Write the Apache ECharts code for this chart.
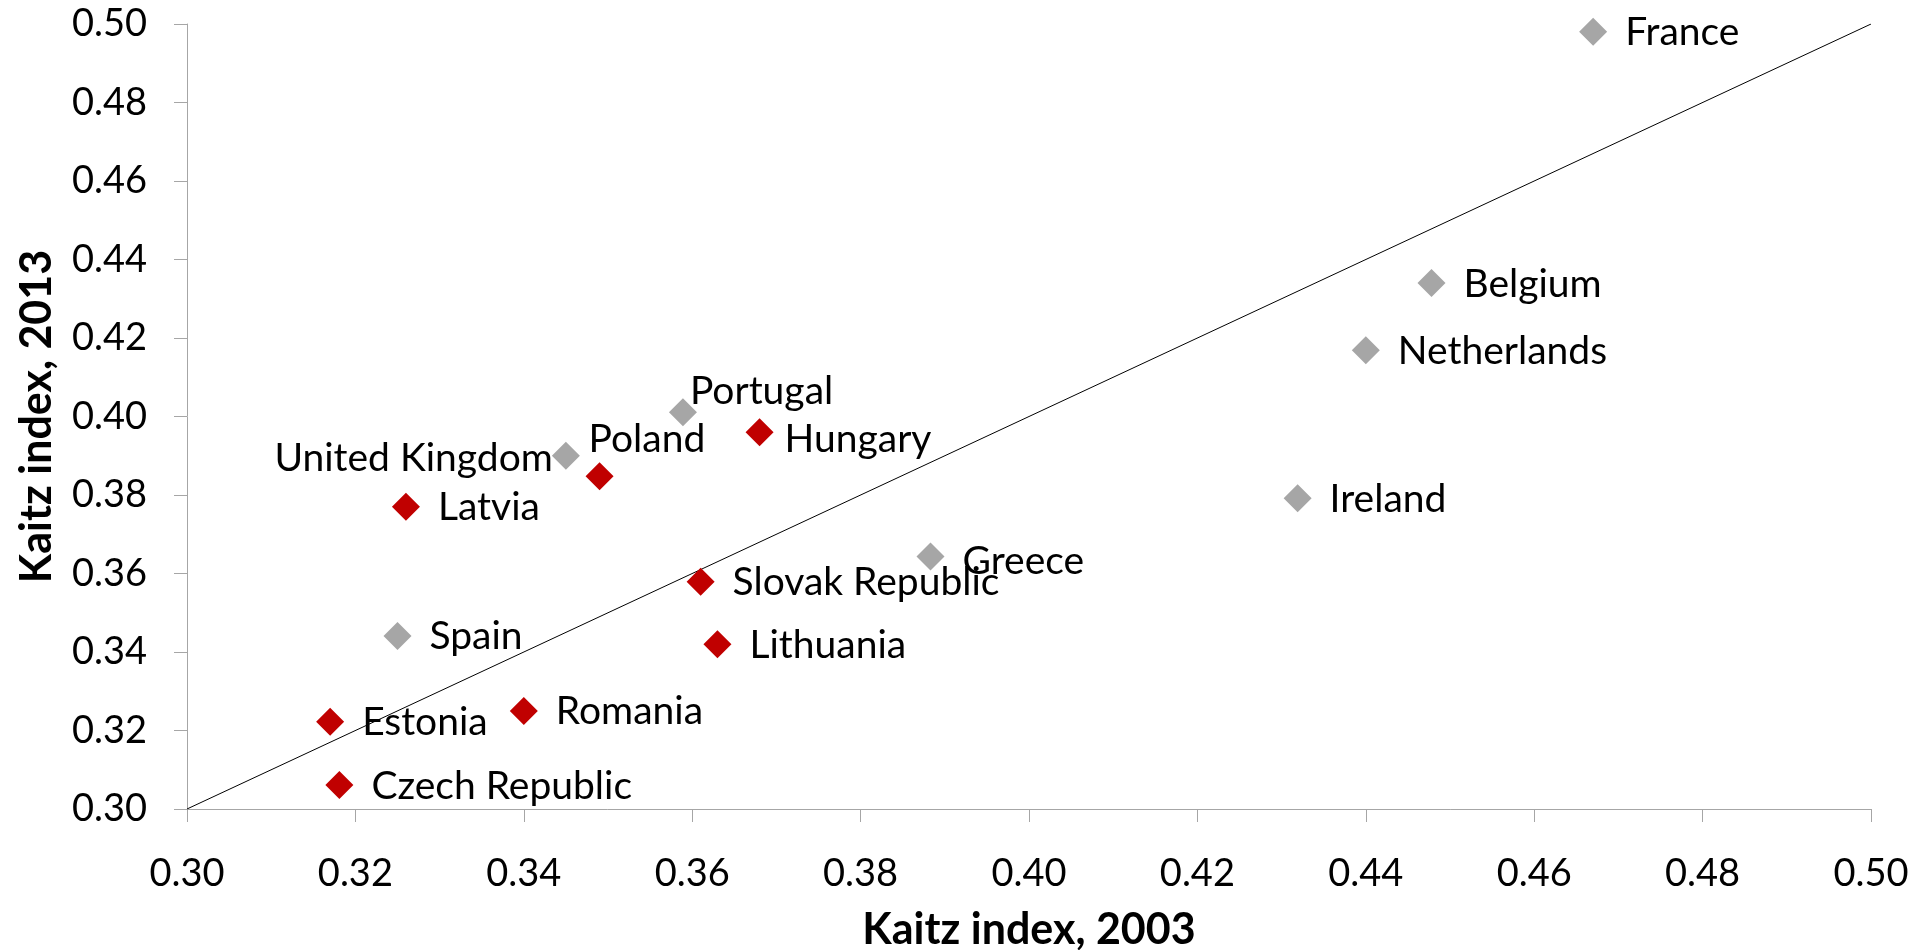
<!DOCTYPE html>
<html>
<head>
<meta charset="utf-8">
<title>Kaitz index 2003 vs 2013</title>
<script src="https://cdn.jsdelivr.net/npm/echarts@6/dist/echarts.min.js"></script>
<style>
  html, body { margin: 0; padding: 0; background: #fff; }
  #chart { width: 1923px; height: 950px; }
</style>
</head>
<body>
<div id="chart"></div>
<script>
// grey group
var greyNames = ['France', 'Belgium', 'Netherlands', 'Ireland', 'Greece', 'Portugal', 'United Kingdom', 'Spain'];
var grey2003  = [0.467, 0.4478, 0.440, 0.4319, 0.3883, 0.3589, 0.345, 0.325];
var grey2013  = [0.498, 0.434, 0.4169, 0.3792, 0.3643, 0.4011, 0.390, 0.3441];

// red group
var redNames = ['Hungary', 'Poland', 'Latvia', 'Slovak Republic', 'Lithuania', 'Romania', 'Estonia', 'Czech Republic'];
var red2003  = [0.368, 0.349, 0.326, 0.361, 0.363, 0.340, 0.317, 0.3181];
var red2013  = [0.396, 0.3848, 0.377, 0.3579, 0.342, 0.325, 0.3222, 0.3061];

var axisTicks = [0.30, 0.32, 0.34, 0.36, 0.38, 0.40, 0.42, 0.44, 0.46, 0.48, 0.50];
var diagonal = [[0.30, 0.30], [0.50, 0.50]];

// labels that Excel had moved by hand
var labelTweaks = {
    'Portugal': { offset: [-25, -21] },
    'Poland': { offset: [-43, -37] },
    'United Kingdom': { position: 'left', offset: [19, 3] },
    'Hungary': { offset: [-7, 7] },
    'Greece': { offset: [0, 5] }
};

var FONT = 'Lato';

var buildPoints = function(names, xs, ys) {
    var out = [];
    for (var i = 0; i < names.length; i++) {
        var p = { name: names[i], value: [xs[i], ys[i]] };
        if (labelTweaks[names[i]]) {
            p.label = labelTweaks[names[i]];
        }
        out.push(p);
    }
    return out;
};

var pointLabel = {
    show: true,
    position: 'right',
    distance: 18,
    offset: [0, 1],
    formatter: '{b}',
    color: '#000',
    fontFamily: FONT,
    fontSize: 39
};

var chart = echarts.init(document.getElementById('chart'));
var axisCommon = {
    type: 'value',
    min: axisTicks[0],
    max: axisTicks[axisTicks.length - 1],
    interval: 0.02,
    splitLine: { show: false },
    axisLine: { show: true, onZero: false, lineStyle: { color: '#A6A6A6', width: 1 } },
    axisTick: { show: true, inside: false, length: 13, lineStyle: { color: '#A6A6A6' } },
    nameLocation: 'middle',
    nameTextStyle: { fontFamily: FONT, fontSize: 43, fontWeight: 'bold', color: '#000' }
};

var option = {
    animation: false,
    grid: { left: 187, right: 52, top: 24, bottom: 141, containLabel: false, outerBoundsMode: 'none' },
    xAxis: echarts.util.merge({
        name: 'Kaitz index, 2003',
        nameGap: 100,
        axisLabel: {
            margin: 46, color: '#000', fontFamily: FONT, fontSize: 38,
            formatter: function(v) { return v.toFixed(2); }
        }
    }, axisCommon),
    yAxis: echarts.util.merge({
        name: 'Kaitz index, 2013',
        nameGap: 128,
        axisLabel: {
            margin: 40, color: '#000', fontFamily: FONT, fontSize: 38,
            formatter: function(v) { return v.toFixed(2); }
        }
    }, axisCommon),
    series: [
        {
            type: 'line',
            data: diagonal,
            symbol: 'none',
            silent: true,
            lineStyle: { color: '#000', width: 1 },
            z: 1
        },
        {
            name: 'grey',
            type: 'scatter',
            symbol: 'diamond',
            symbolSize: 28,
            itemStyle: { color: '#A6A6A6', opacity: 1 },
            label: pointLabel,
            data: buildPoints(greyNames, grey2003, grey2013),
            z: 3
        },
        {
            name: 'red',
            type: 'scatter',
            symbol: 'diamond',
            symbolSize: 28,
            itemStyle: { color: '#C00000', opacity: 1 },
            label: pointLabel,
            data: buildPoints(redNames, red2003, red2013),
            z: 3
        }
    ]
};
chart.setOption(option);
</script>
</body>
</html>
